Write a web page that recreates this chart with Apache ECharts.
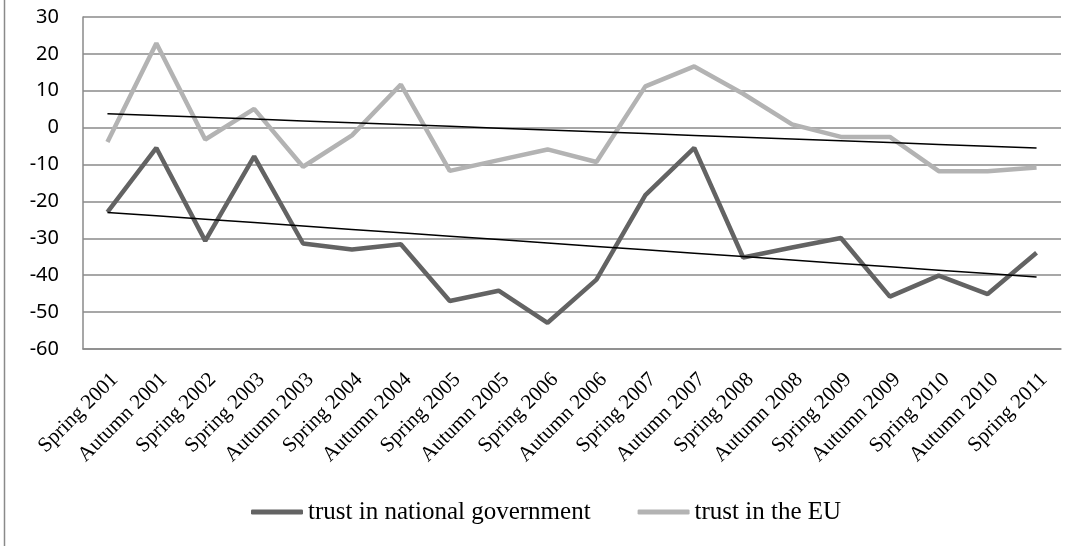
<!DOCTYPE html>
<html>
<head>
<meta charset="utf-8">
<script src="https://cdn.jsdelivr.net/npm/echarts@6/dist/echarts.min.js"></script>
<style>
html,body{margin:0;padding:0;background:#fff;}
#c{width:1078px;height:546px;}
</style>
</head>
<body>
<div id="c"></div>
<script>
var categories = ['Spring 2001','Autumn 2001','Spring 2002','Spring 2003','Autumn 2003','Spring 2004','Autumn 2004','Spring 2005','Autumn 2005','Spring 2006','Autumn 2006','Spring 2007','Autumn 2007','Spring 2008','Autumn 2008','Spring 2009','Autumn 2009','Spring 2010','Autumn 2010','Spring 2011'];
var trustGov = [-22.9, -5.5, -30.7, -7.8, -31.4, -33.0, -31.6, -47.0, -44.2, -52.9, -41.2, -18.3, -5.5, -35.2, -32.5, -29.9, -45.8, -40.1, -45.1, -33.9];
var trustEU = [-3.9, 22.9, -3.2, 5.1, -10.6, -2.1, 11.7, -11.7, -8.8, -5.9, -9.3, 11.2, 16.6, 9.2, 0.9, -2.5, -2.5, -11.8, -11.8, -10.8];
var seriesNames = ['trust in national government', 'trust in the EU'];
var yTicks = { min: -60, max: 30, interval: 10 };

function linearTrend(vals) {
  var n = vals.length, sx = 0, sy = 0, sxx = 0, sxy = 0;
  for (var i = 0; i < n; i++) { sx += i; sy += vals[i]; sxx += i * i; sxy += i * vals[i]; }
  var b = (n * sxy - sx * sy) / (n * sxx - sx * sx);
  var a = (sy - b * sx) / n;
  return vals.map(function (v, i) { return +(a + b * i).toFixed(3); });
}

var chart = echarts.init(document.getElementById('c'), null, { renderer: 'canvas' });
var gridColor = '#8a8a8a';
chart.setOption({
  animation: false,
  backgroundColor: '#ffffff',
  grid: { left: 83, right: 17, top: 17, height: 332 },
  legend: {
    data: seriesNames,
    left: 246,
    top: 494,
    icon: 'roundRect',
    itemWidth: 52,
    itemHeight: 5,
    itemGap: 47,
    textStyle: { fontFamily: '"Liberation Serif", "Times New Roman", serif', fontSize: 25, color: '#000', lineHeight: 26 }
  },
  xAxis: {
    type: 'category',
    data: categories,
    boundaryGap: true,
    axisLine: { onZero: false, lineStyle: { color: gridColor, width: 1.5 } },
    axisTick: { show: false },
    axisLabel: {
      interval: 0,
      rotate: 45,
      align: 'right',
      verticalAlign: 'top',
      margin: 20,
      fontFamily: '"Liberation Serif", "Times New Roman", serif',
      fontSize: 21,
      color: '#000'
    },
    splitLine: { show: false }
  },
  yAxis: {
    type: 'value',
    min: yTicks.min,
    max: yTicks.max,
    interval: yTicks.interval,
    axisLine: { show: true, lineStyle: { color: gridColor, width: 1.5 } },
    axisTick: { show: false },
    axisLabel: { margin: 24, fontFamily: '"Noto Sans", sans-serif', fontSize: 20, color: '#000' },
    splitLine: { show: true, lineStyle: { color: gridColor, width: 1.5 } }
  },
  series: [
    {
      name: seriesNames[0], type: 'line', data: trustGov, showSymbol: false, symbol: 'none',
      itemStyle: { color: '#636363' },
      lineStyle: { color: '#636363', width: 4.5 }, z: 3
    },
    {
      name: seriesNames[1], type: 'line', data: trustEU, showSymbol: false, symbol: 'none',
      itemStyle: { color: '#b3b3b3' },
      lineStyle: { color: '#b3b3b3', width: 4.5 }, z: 2
    },
    {
      name: 'trendGov', type: 'line', data: linearTrend(trustGov), showSymbol: false, symbol: 'none',
      lineStyle: { color: '#000', width: 1.5 }, z: 4, silent: true
    },
    {
      name: 'trendEU', type: 'line', data: linearTrend(trustEU), showSymbol: false, symbol: 'none',
      lineStyle: { color: '#000', width: 1.5 }, z: 4, silent: true
    }
  ],
  graphic: [
    { type: 'line', shape: { x1: 4.5, y1: 0, x2: 4.5, y2: 546 }, style: { stroke: '#8a8a8a', lineWidth: 1.5 } }
  ]
});
</script>
</body>
</html>
